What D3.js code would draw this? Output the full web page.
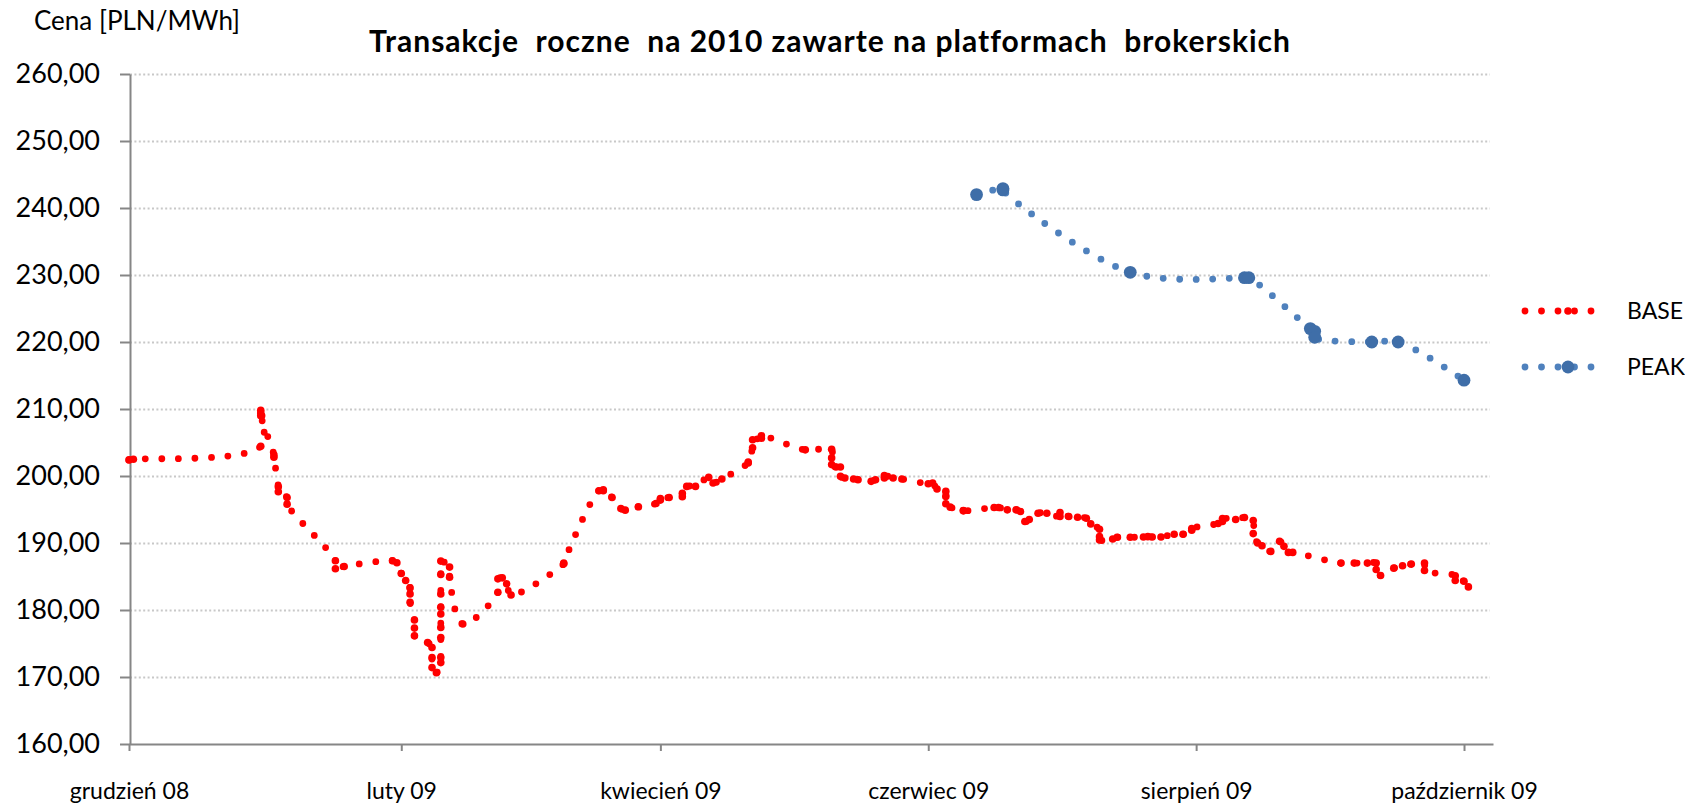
<!DOCTYPE html>
<html><head><meta charset="utf-8">
<script src="https://cdn.jsdelivr.net/npm/d3@7"></script>
<style>
html,body{margin:0;padding:0;background:#fff;}
svg{display:block;}
text{font-family:Lato,"Open Sans",sans-serif;fill:#000;}
</style>
</head><body>
<svg id="chart" width="1685" height="806"></svg>
<script>
const titleText = "Transakcje  roczne  na 2010 zawarte na platformach  brokerskich";
const yAxisTitle = "Cena [PLN/MWh]";
const seriesNames = ["BASE", "PEAK"];
const tickDates = ["2008-12-01","2009-02-01","2009-04-01","2009-06-01","2009-08-01","2009-10-01"];
const tickLabels = ["grudzień 08","luty 09","kwiecień 09","czerwiec 09","sierpień 09","październik 09"];
const yTicks = [160,170,180,190,200,210,220,230,240,250,260];
const axisStart = "2008-12-01T00:00";
const axisEnd = "2009-10-07T14:24";

const baseDates = [
"2008-12-01","2008-12-02","2008-12-31","2008-12-31","2008-12-31","2008-12-31",
"2009-01-03","2009-01-03","2009-01-04","2009-01-04","2009-01-06","2009-01-06",
"2009-01-17","2009-01-17","2009-01-19","2009-01-30","2009-01-31",
"2009-02-01","2009-02-02","2009-02-03","2009-02-03","2009-02-03",
"2009-02-04","2009-02-04","2009-02-04","2009-02-07","2009-02-08","2009-02-08","2009-02-08","2009-02-09",
"2009-02-10","2009-02-10","2009-02-10","2009-02-10","2009-02-10","2009-02-10","2009-02-10","2009-02-10","2009-02-10",
"2009-02-12","2009-02-12","2009-02-15","2009-02-23","2009-02-23","2009-02-24","2009-02-25","2009-02-26",
"2009-03-10","2009-03-10","2009-03-18","2009-03-19","2009-03-19","2009-03-21","2009-03-23","2009-03-24",
"2009-03-27","2009-03-31","2009-04-01","2009-04-01","2009-04-03","2009-04-06","2009-04-06","2009-04-07",
"2009-04-09","2009-04-12","2009-04-13","2009-04-15","2009-04-21","2009-04-21","2009-04-22","2009-04-22",
"2009-04-24","2009-04-24","2009-05-04","2009-05-10","2009-05-10","2009-05-10","2009-05-11","2009-05-12",
"2009-05-12","2009-05-13","2009-05-15","2009-05-16","2009-05-19","2009-05-20","2009-05-22","2009-05-22",
"2009-05-24","2009-05-26","2009-06-01","2009-06-02","2009-06-03","2009-06-05","2009-06-05","2009-06-05",
"2009-06-06","2009-06-09","2009-06-09","2009-06-16","2009-06-17","2009-06-19","2009-06-21","2009-06-22",
"2009-06-23","2009-06-24","2009-06-26","2009-06-28","2009-07-01","2009-07-01","2009-07-03","2009-07-05",
"2009-07-07","2009-07-08","2009-07-10","2009-07-10","2009-07-10","2009-07-13","2009-07-14","2009-07-17",
"2009-07-20","2009-07-21","2009-07-22","2009-07-24","2009-07-27","2009-07-29","2009-07-31","2009-07-31",
"2009-08-06","2009-08-07","2009-08-07","2009-08-10","2009-08-12","2009-08-14","2009-08-14","2009-08-15",
"2009-08-16","2009-08-18","2009-08-20","2009-08-21","2009-08-22","2009-08-23",
"2009-09-03","2009-09-06","2009-09-09","2009-09-11","2009-09-11","2009-09-12","2009-09-15","2009-09-17",
"2009-09-19","2009-09-22","2009-09-22","2009-09-29","2009-09-29","2009-10-01","2009-10-02"
];
const baseValues = [
202.4,202.5,204.45,209.8,209.4,209.0,
203.15,202.8,198.4,197.65,196.8,195.8,
187.35,186.15,186.5,187.35,187.05,
185.45,184.4,183.3,182.4,181.15,
178.5,177.3,176.15,175.15,174.4,172.9,171.4,170.65,
172.15,172.9,175.9,177.4,179.4,180.4,182.4,185.3,187.3,
186.4,184.9,177.9,182.65,184.65,184.8,183.9,182.25,
186.9,187.0,197.8,197.8,197.95,196.8,195.15,194.9,
195.4,195.9,196.4,196.65,196.8,197.4,196.9,198.45,
198.45,199.8,198.95,199.55,201.95,202.1,204.2,205.4,
205.65,206.0,203.9,204.0,202.7,201.7,201.35,201.35,
199.95,199.7,199.55,199.45,199.2,199.45,199.7,200.05,
199.7,199.55,198.85,198.95,198.05,197.7,196.95,195.85,
195.35,194.85,194.8,195.3,195.3,194.95,194.95,194.7,
193.2,193.5,194.45,194.45,193.95,194.55,193.95,193.85,
193.7,192.85,192.05,190.95,190.45,190.6,190.85,190.85,
190.9,190.95,190.9,190.9,191.3,191.3,191.9,192.15,
192.9,193.2,193.65,193.5,193.8,193.35,191.4,190.0,
189.6,188.75,190.25,189.5,188.6,188.6,
187.0,187.0,187.0,187.0,186.05,185.15,186.25,186.6,
186.85,187.0,185.9,185.1,184.4,184.3,183.45
];
const peakDates = ["2009-06-12","2009-06-18","2009-06-18","2009-07-17","2009-08-12","2009-08-13",
"2009-08-27","2009-08-28","2009-08-28","2009-09-10","2009-09-16","2009-10-01"];
const peakValues = [242.0,242.9,242.7,230.4,229.6,229.6,222.0,221.6,220.7,220.0,220.0,214.3];

const parseDay = d3.utcParse("%Y-%m-%d");
const parseTime = d3.utcParse("%Y-%m-%dT%H:%M");
const svg = d3.select("#chart");
svg.append("rect").attr("width",1685).attr("height",806).attr("fill","#fff");

const x = d3.scaleUtc().domain([parseTime(axisStart), parseTime(axisEnd)]).range([129, 1493]);
const y = d3.scaleLinear().domain([160, 260]).range([744, 74]);

const plCommaFmt = d3.formatLocale({decimal: ",", thousands: " ", grouping: [3], currency: ["", " zł"]}).format(".2f");

// gridlines
const grid = svg.append("g").attr("transform","translate(130,0)")
  .call(d3.axisLeft(y).tickValues(yTicks.filter(v => v !== 160)).tickSize(-1360).tickFormat(""));
grid.select(".domain").remove();
grid.selectAll(".tick line").attr("stroke","#c8c8c8").attr("stroke-width",2).attr("stroke-dasharray","2,2.4");

// y axis
const yAx = svg.append("g").attr("transform","translate(130,0)")
  .call(d3.axisLeft(y).tickValues(yTicks).tickSize(10).tickSizeOuter(0).tickPadding(20).tickFormat(plCommaFmt));
yAx.select(".domain").attr("stroke","#868686").attr("stroke-width",2);
yAx.selectAll(".tick line").attr("stroke","#868686").attr("stroke-width",2);
yAx.selectAll(".tick text").style("font-family","Lato").style("font-size","27px").attr("fill","#000");

// x axis
const xAx = svg.append("g").attr("transform","translate(0,744)")
  .call(d3.axisBottom(x).tickValues(tickDates.map(parseDay)).tickSize(7).tickSizeOuter(0)
    .tickFormat((d,i) => tickLabels[i]));
xAx.select(".domain").attr("stroke","#868686").attr("stroke-width",2);
xAx.selectAll(".tick line").attr("stroke","#868686").attr("stroke-width",2);
xAx.selectAll(".tick text").style("font-family","Lato").style("font-size","23px").attr("fill","#000")
  .attr("y",55).attr("dy",0);

const baseData = baseDates.map((d,i) => ({date: parseDay(d), value: baseValues[i]}));
const peakData = peakDates.map((d,i) => ({date: parseDay(d), value: peakValues[i]}));

const line = d3.line().x(d => x(d.date)).y(d => y(d.value)).curve(d3.curveCatmullRom.alpha(0.5));

const styles = [
  {data: baseData, line: "#ff0000", marker: "#ff0000", r: 3.8},
  {data: peakData, line: "#4f81bd", marker: "#3f6ea8", r: 6.4}
];
styles.forEach(s => {
  svg.append("path").datum(s.data).attr("d", line).attr("fill","none")
    .attr("stroke", s.line).attr("stroke-width", 6.8).attr("stroke-linecap","round")
    .attr("stroke-dasharray","0,16.5");
  svg.append("g").selectAll("circle").data(s.data).join("circle")
    .attr("cx", d => x(d.date)).attr("cy", d => y(d.value)).attr("r", s.r).attr("fill", s.marker);
});

// legend
const legY = [311, 367];
styles.forEach((s, i) => {
  const g = svg.append("g");
  g.append("path").attr("d", d3.line()([[1525, legY[i]], [1607.5, legY[i]]]))
    .attr("stroke", s.line).attr("stroke-width", 6.8).attr("stroke-linecap","round")
    .attr("stroke-dasharray","0,16.5").attr("fill","none");
  g.append("circle").attr("cx", 1568).attr("cy", legY[i]).attr("r", s.r).attr("fill", s.marker);
  g.append("text").attr("x", 1627).attr("y", legY[i] + 8).style("font-size","23px").text(seriesNames[i]);
});

// titles
svg.append("text").attr("x", 830).attr("y", 52).attr("text-anchor","middle")
  .style("font-size","30px").style("font-weight","bold").style("letter-spacing","1px")
  .style("white-space","pre").text(titleText);
svg.append("text").attr("x", 34).attr("y", 30).style("font-size","26px").text(yAxisTitle);
</script>
</body></html>
